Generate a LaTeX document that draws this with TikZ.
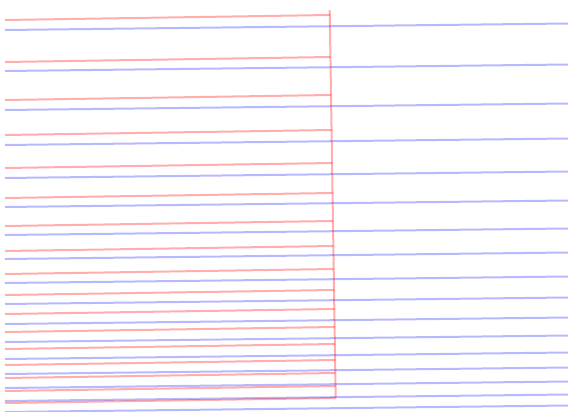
\documentclass[tikz,border=0pt]{standalone}
\begin{document}
\begin{tikzpicture}[x=1pt,y=-1pt,
  redline/.style={draw=red,draw opacity=0.32,line width=2pt},
  blueline/.style={draw=blue,draw opacity=0.28,line width=2pt}]
\useasboundingbox (0,0) rectangle (568,412);
\clip (0,0) rectangle (568,412);
% blue lines (full width)
\foreach \b in {30,71,110,145,178,207,235,259,283,304,324,342,359,374,388,401,412}{
  \draw[blueline] (5,\b) -- (568,\b-6.5);
}
% red lines ending at the vertical red line
\foreach \r in {20,62,100,135,168,198,226,251,274,295,314,332,349,365,378,391,403}{
  \pgfmathsetmacro{\xr}{329.7+6*(\r-5-10)/388}
  \draw[redline] (5,\r) -- (\xr,\r-5);
}
\coordinate (vtop) at (329.7,10);
\coordinate (vbot) at (335.7,398);
\draw[redline] (vtop) -- (vbot);
\end{tikzpicture}
\end{document}
